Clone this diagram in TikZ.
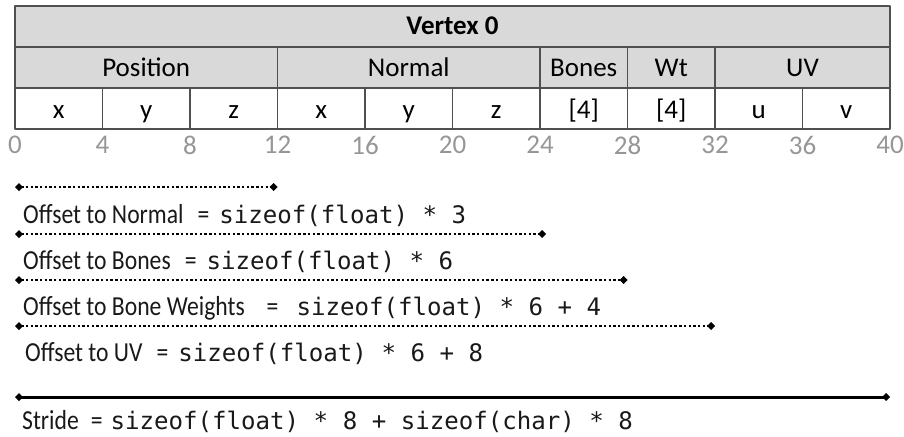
\documentclass[tikz,border=0pt]{standalone}
\usepackage{fontspec}
\setmainfont[Numbers=Lining]{Carlito}
\newfontfamily\notefont[Numbers=Lining, FakeStretch=0.86]{Carlito}
\newfontfamily\codefont{DejaVu Sans Mono}
\usetikzlibrary{arrows.meta}

\definecolor{cellgray}{RGB}{217,217,217}
\definecolor{rulegray}{RGB}{80,80,80}
\definecolor{tickgray}{RGB}{150,150,150}
\definecolor{inkgray}{RGB}{25,25,25}

\newcommand{\src}[1]{{\codefont\fontsize{24.1}{29}\selectfont #1}}
\newcommand{\eqsign}[1][14pt]{\hspace{#1}=\hspace{\dimexpr#1-4pt\relax}}

\begin{document}
\begin{tikzpicture}[x=1pt, y=-1pt, line join=round,
  cell/.style={draw=rulegray, line width=1.4pt, inner sep=0pt, minimum height=41pt,
    text height=24pt, text depth=5pt, font=\fontsize{27}{32}\selectfont},
  head/.style={cell, fill=cellgray},
  tick/.style={inner sep=0pt, text=tickgray, font=\fontsize{27}{32}\selectfont},
  note/.style={inner sep=0pt, anchor=base west, text=inkgray,
    font=\notefont\fontsize{27.5}{32}\selectfont},
  span/.style={line width=2.6pt, dash pattern=on 2.4pt off 2.3pt,
    {Turned Square[length=8pt,width=8pt]}-{Turned Square[length=8pt,width=8pt]}},
  stride/.style={line width=3pt,
    {Turned Square[length=8pt,width=8pt]}-{Turned Square[length=8pt,width=8pt]}}]

  % ---- table: 40 bytes, 21.875pt per byte, left edge at x=15 ----
  \node[head, minimum width=875pt, text height=23pt, text depth=6pt] (vtx) at (452.5,26.5) {\textbf{Vertex 0}};

  % -- attribute groups --
  \foreach \a/\b/\t [count=\i] in {0/12/Position, 12/24/Normal, 24/28/Bones, 28/32/Wt, 32/40/UV}
    \node[head, minimum width={(\b-\a)*21.875pt}] (grp\i) at ({15+(\a+\b)*10.9375},67.5) {\t};

  % -- components (4 bytes each) --
  \foreach \a/\t [count=\i] in {0/x, 4/y, 8/z, 12/x, 16/y, 20/z, 24/{[4]}, 28/{[4]}, 32/u, 36/v}
    \node[cell, fill=white, minimum width=87.5pt] (cmp\i) at ({15+(\a+2)*21.875},108.5) {\t};

  % -- byte offsets --
  \foreach \n in {0,4,...,40}
    \node[tick] (ofs\n) at ({15+\n*21.875},145) {\n};

  % ---- offset spans ----
  \foreach \y/\e [count=\i] in {187/277.5, 234/546, 280/627.5, 326/715} {
    \coordinate (beg\i) at (15,\y);
    \coordinate (end\i) at (\e,\y);
    \draw[span] (beg\i) -- (end\i);
  }
  \coordinate (beg5) at (15,397);
  \coordinate (end5) at (890,397);
  \draw[stride] (beg5) -- (end5);

  % ---- labels under the spans ----
  \node[note] (lnrm) at (23,223) {Offset to Normal\eqsign\src{sizeof(float) * 3}};
  \node[note] (lbns) at (23,269) {Offset to Bones\eqsign\src{sizeof(float) * 6}};
  \node[note] (lwts) at (23,315) {Offset to Bone Weights\eqsign[22pt]\src{sizeof(float) * 6 + 4}};
  \node[note] (luvs) at (25,361) {Offset to UV\eqsign\src{sizeof(float) * 6 + 8}};
  \node[note] (lstr) at (22,429) {Stride\eqsign[12pt]\src{sizeof(float) * 8 + sizeof(char) * 8}};

  \path[use as bounding box] (0,0) rectangle (904,436);
\end{tikzpicture}
\end{document}
